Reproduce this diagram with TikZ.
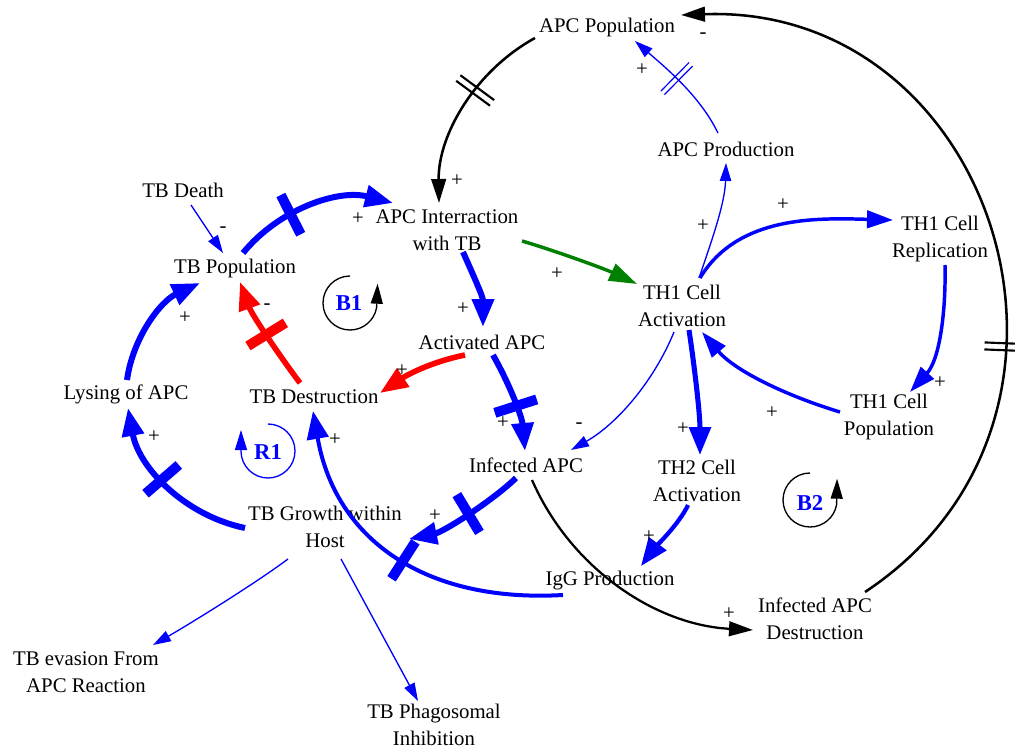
\documentclass[tikz,border=0pt]{standalone}
\usepackage{fontspec}
\setmainfont{Liberation Serif}
\usetikzlibrary{arrows.meta,calc,decorations.markings}
\definecolor{vblue}{RGB}{0,0,255}
\definecolor{vred}{RGB}{255,0,0}
\definecolor{vgreen}{RGB}{0,128,0}
\begin{document}
\begin{tikzpicture}[x=0.75pt,y=-0.75pt,
  var/.style={font=\fontsize{15.6pt}{20.3pt}\selectfont, align=center, inner sep=0pt, text=black},
  pol/.style={font=\fontsize{15.6pt}{18pt}\selectfont, inner sep=0pt, text=black},
  loopname/.style={font=\fontsize{17pt}{20pt}\selectfont\bfseries, text=vblue, inner sep=0pt},
  lthin/.style={vblue, line width=1pt, -{Triangle[length=13.5pt,width=8.5pt]}},
  lmed/.style={vblue, line width=2.6pt, -{Triangle[length=19.5pt,width=13pt]}},
  lheavy/.style={vblue, line width=4.5pt, -{Triangle[length=21pt,width=16pt]}},
  lred/.style={vred, line width=4.2pt, -{Triangle[length=21pt,width=16pt]}},
  lblack/.style={black, line width=1.9pt, -{Triangle[length=18pt,width=11pt]}},
  lgreen/.style={vgreen, line width=2.6pt, -{Triangle[length=21pt,width=13.5pt]}},
  loopline/.style={line width=1pt, -{Triangle[length=15pt,width=9pt]}},
  bar/.style={postaction={decorate}, decoration={markings,
      mark=at position #1 with {\fill[-] (-5,-22) rectangle (5,22);}}},
  dbar/.style={postaction={decorate}, decoration={markings,
      mark=at position #1 with {\draw[-,line width=1.6pt] (-3.5,-21) -- (-3.5,21) (3.5,-21) -- (3.5,21);}}},
  thindbar/.style={postaction={decorate}, decoration={markings,
      mark=at position #1 with {\draw[-,line width=0.9pt] (-2.5,-20) -- (-2.5,20) (2.5,-20) -- (2.5,20);}}}
]
\useasboundingbox (0,0) rectangle (1015,750);

% variables
\node[var] (apcpop)    at (607,27)  {APC Population};
\node[var] (apcprod)   at (726,149) {APC Production};
\node[var] (tbdeath)   at (183,190) {TB Death};
\node[var] (apcint)    at (447,230) {APC Interraction\\with TB};
\node[var] (tbpop)     at (235,268) {TB Population};
\node[var] (th1act)    at (682,306) {TH1 Cell\\Activation};
\node[var] (th1rep)    at (940,239) {TH1 Cell\\Replication};
\node[var] (actapc)    at (482,342) {Activated APC};
\node[var] (tbdes)     at (314,397) {TB Destruction};
\node[var] (lysing)    at (126,394) {Lysing of APC};
\node[var] (th1pop)    at (889,417) {TH1 Cell\\Population};
\node[var] (infapc)    at (526,465) {Infected APC};
\node[var] (th2act)    at (697,481) {TH2 Cell\\Activation};
\node[var] (tbgrowth)  at (325,527) {TB Growth within\\Host};
\node[var] (igg)       at (610,581) {IgG Production};
\node[var] (infdes)    at (815,619) {Infected APC\\Destruction};
\node[var] (tbevasion) at (86,672)  {TB evasion From\\APC Reaction};
\node[var] (tbphago)   at (434,725) {TB Phagosomal\\Inhibition};

% links
\draw[lblack, dbar=0.4] ($(apcpop)+(-72,11)$) .. controls +(-60,33) and +(-1,-68) .. ($(apcint)+(-8,-27)$);
\draw[lblack, dbar=0.36] ($(infdes)+(50,-27)$) .. controls +(263,-174) and +(316,-11) .. ($(apcpop)+(74,-12)$);
\draw[lthin, thindbar=0.55] ($(apcprod)+(-8,-16)$) .. controls +(-18,-37) and +(31,27) .. ($(apcpop)+(28,14)$);
\draw[lthin] ($(th1act)+(17,-28)$) .. controls +(13,-38) and +(-1,40) .. ($(apcprod)+(0,14)$);
\draw[lmed] ($(th1act)+(18,-28)$) .. controls +(38,-63) and +(-75,-2) .. ($(th1rep)+(-47,-19)$);
\draw[lmed] ($(th1rep)+(5,26)$) .. controls +(1,45) and +(30,-33) .. ($(th1pop)+(21,-25)$);
\draw[lmed] ($(th1pop)+(-49,-5)$) .. controls +(-50,-15) and +(34,40) .. ($(th1act)+(20,26)$);
\draw[lthin] ($(th1act)+(-8,26)$) .. controls +(-20,49) and +(46,-26) .. ($(infapc)+(45,-15)$);
\draw[lheavy, line width=3.8pt] ($(th1act)+(7,24)$) .. controls +(6,40) and +(0,-40) .. ($(th2act)+(3,-26)$);
\draw[lheavy, line width=3.2pt] ($(th2act)+(-9,24)$) .. controls +(-8,18) and +(12,-16) .. ($(igg)+(31,-15)$);
\draw[lheavy, line width=3pt, bar=0.48] ($(igg)+(-47,14)$) .. controls +(-140,8) and +(22,127) .. ($(tbdes)+(-1,14)$);
\draw[lheavy, bar=0.48] ($(infapc)+(-10,13)$) .. controls +(-25,24) and +(34,-7) .. ($(tbgrowth)+(84,12)$);
\draw[lblack, line width=1.7pt] ($(infapc)+(6,15)$) .. controls +(39,89) and +(-97,-5) .. ($(infdes)+(-62,11)$);
\draw[lheavy, bar=0.55] ($(tbgrowth)+(-80,1)$) .. controls +(-60,-12.5) and +(11,60) .. ($(lysing)+(2,14)$);
\draw[lheavy] ($(lysing)+(1,-14)$) .. controls +(6,-43) and +(-39,18) .. ($(tbpop)+(-35,15)$);
\draw[lheavy, bar=0.37] ($(tbpop)+(8,-15)$) .. controls +(36,-44) and +(-55,-14) .. ($(apcint)+(-54,-27)$);
\draw[lthin] ($(tbdeath)+(8,15)$) -- ($(tbpop)+(-12,-15)$);
\draw[lred, bar=0.5] ($(tbdes)+(-14,-14)$) .. controls +(-21,-28) and +(12,33) .. ($(tbpop)+(5,14)$);
\draw[lred] ($(actapc)+(-17,13)$) .. controls +(-30,6) and +(30,-20) .. ($(tbdes)+(66,-4)$);
\draw[lheavy] ($(apcint)+(16,22)$) .. controls +(12,27) and +(0,-30) .. ($(actapc)+(1,-15)$);
\draw[lgreen] ($(apcint)+(75,11)$) .. controls +(34,10) and +(-32,-15) .. ($(th1act)+(-45,-22)$);
\draw[lheavy, bar=0.55] ($(actapc)+(11,13)$) .. controls +(17,30) and +(-3,-34) .. ($(infapc)+(-1,-14)$);
\draw[lthin] ($(tbgrowth)+(-37,32)$) .. controls +(-32,24) and +(35,-20) .. ($(tbevasion)+(67,-27)$);
\draw[lthin] ($(tbgrowth)+(16,32)$) -- ($(tbphago)+(-16,-24)$);

% link polarities
\node[pol] (pa) at (457,181) {+};
\node[pol] (pb) at (703,36)  {-};
\node[pol] (pc) at (642,70)  {+};
\node[pol] (pd) at (703,226) {+};
\node[pol] (pe) at (783,205) {+};
\node[pol] (pf) at (940,383) {+};
\node[pol] (pg) at (772,413) {+};
\node[pol] (ph) at (579,426) {-};
\node[pol] (pi) at (683,429) {+};
\node[pol] (pj) at (649,537) {+};
\node[pol] (pk) at (335,440) {+};
\node[pol] (pl) at (435,516) {+};
\node[pol] (pm) at (729,614) {+};
\node[pol] (pn) at (154,437) {+};
\node[pol] (po) at (185,318) {+};
\node[pol] (pp) at (358,219) {+};
\node[pol] (pq) at (223,230) {-};
\node[pol] (pr) at (267,307) {-};
\node[pol] (ps) at (402,371) {+};
\node[pol] (pt) at (463,309) {+};
\node[pol] (pu) at (557,274) {+};
\node[pol] (pv) at (503,423) {+};

% loop markers
\node[loopname] (b1) at (349,303) {B1};
\draw[loopline, black] ($(b1)+(1,-27)$) arc[start angle=-90, end angle=-350, radius=27] -- ++(1,-24);
\node[loopname] (r1) at (268,452) {R1};
\draw[loopline, vblue] ($(r1)+(0,-28)$) arc[start angle=-90, end angle=180, radius=27] -- ++(0,-21);
\node[loopname] (b2) at (810,503) {B2};
\draw[loopline, black] ($(b2)+(0,-30)$) arc[start angle=-90, end angle=-350, radius=27] -- ++(0.5,-26);
\end{tikzpicture}
\end{document}
